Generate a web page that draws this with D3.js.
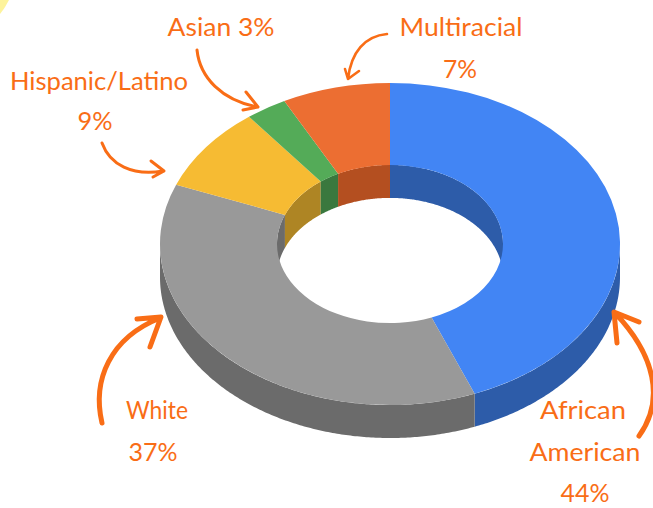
<!DOCTYPE html>
<html>
<head>
<meta charset="utf-8">
<script src="https://cdn.jsdelivr.net/npm/d3@7"></script>
<style>
  html, body { margin: 0; padding: 0; background: #fff; overflow: hidden; }
  svg { display: block; }
</style>
</head>
<body>
<div id="chart"></div>
<script>
const categories = ["African American", "White", "Hispanic/Latino", "Asian", "Multiracial"];
// printed on the labels
const percents = [44, 37, 9, 3, 7];
// slice sizes as measured off the ring, they don't quite follow the printed numbers
const shares = [44, 37, 8.5, 2.9, 7.6];
const topColors = ["#4285f4", "#999999", "#f6bb33", "#54ab58", "#ec6e32"];
const wallColors = ["#2d5ca9", "#6b6b6b", "#ae8524", "#3a783e", "#b44f20"];

const width = 653,
  height = 508,
  cx = 390,
  cy = 244,
  outerRadius = 230,
  innerRadius = 113,
  squash = 0.7,
  depth = 33,
  orange = "#f96d16";

const svg = d3.select("#chart")
  .append("svg")
  .attr("width", width)
  .attr("height", height)
  .attr("viewBox", [0, 0, width, height]);

// bit of the page decoration poking into the corner
svg.append("path")
  .attr("d", "M0,0 L9,0 Q5,8 0,14 Z")
  .attr("fill", "#fdf39b");

const arcs = d3.pie().sort(null).value(d => d)(shares);
const arc = d3.arc().innerRadius(innerRadius).outerRadius(outerRadius);

const rim = d3.line();
const pct = i => `${percents[i]}%`;

// strip of wall along radius r, between two angles
function wall(a0, a1, r) {
  if (a1 <= a0) return null;
  const n = Math.ceil((a1 - a0) / 0.01);
  const angles = d3.range(n + 1).map(i => a0 + (a1 - a0) * i / n);
  const top = angles.map(a => [r * Math.sin(a), -r * Math.cos(a) * squash]);
  const bottom = top.map(p => [p[0], p[1] + depth]).reverse();
  return rim(top.concat(bottom)) + "Z";
}

const chart = svg.append("g")
  .attr("transform", `translate(${cx},${cy})`);

// hole walls, only the far side shows
chart.append("g")
  .selectAll("path")
  .data(arcs)
  .join("path")
  .attr("fill", d => wallColors[d.index])
  .attr("d", d => {
    const right = wall(d.startAngle, Math.min(d.endAngle, Math.PI / 2), innerRadius);
    const left = wall(Math.max(d.startAngle, Math.PI * 1.5), d.endAngle, innerRadius);
    return (right || "") + (left || "");
  });

// outer walls, near side
chart.append("g")
  .selectAll("path")
  .data(arcs)
  .join("path")
  .attr("fill", d => wallColors[d.index])
  .attr("d", d => wall(Math.max(d.startAngle, Math.PI / 2), Math.min(d.endAngle, Math.PI * 1.5), outerRadius));

chart.append("g")
  .attr("transform", `scale(1,${squash})`)
  .selectAll("path")
  .data(arcs)
  .join("path")
  .attr("fill", d => topColors[d.index])
  .attr("d", arc);

// labels: text lines drawn with x, baseline and measured width
const labelLayout = [
  { text: `${categories[3]} ${pct(3)}`, x: 221, y: 36, w: 107 },
  { text: categories[4], x: 461, y: 36, w: 123 },
  { text: pct(4), x: 460, y: 78, w: 34 },
  { text: categories[2], x: 99, y: 90, w: 178 },
  { text: pct(2), x: 95, y: 130, w: 35 },
  { text: categories[1], x: 157, y: 419, w: 62 },
  { text: pct(1), x: 153, y: 461, w: 49 },
  { text: categories[0].split(" ")[0], x: 583, y: 419, w: 86 },
  { text: categories[0].split(" ")[1], x: 585, y: 461, w: 111 },
  { text: pct(0), x: 585, y: 502, w: 49 }
];

svg.append("g")
  .attr("font-family", "Lato, 'Noto Sans', sans-serif")
  .attr("font-size", 25)
  .attr("fill", orange)
  .attr("text-anchor", "middle")
  .selectAll("text")
  .data(labelLayout)
  .join("text")
  .attr("x", d => d.x)
  .attr("y", d => d.y)
  .attr("textLength", d => d.w)
  .attr("lengthAdjust", "spacingAndGlyphs")
  .text(d => d.text);

// hand drawn arrows
const arrows = [
  { sw: 3, d: "M197,50 C200,78 222,100 257,107 M246,92 L258,107 L243,110" },
  { sw: 3, d: "M102,143 C110,165 132,176 163,171 M151,161 L164,171 L153,177" },
  { sw: 2.6, d: "M387,34 C365,36 351,52 348,79 M345,69 L348,79 L359,71" },
  { sw: 5, d: "M102,423 C92,380 110,338 160,318 M137,319 L161,317 L150,347" },
  { sw: 5, d: "M639,436 C665,400 655,355 615,313 M639,322 L614,312 L617,343" }
];

svg.append("g")
  .attr("fill", "none")
  .attr("stroke", orange)
  .attr("stroke-linecap", "round")
  .attr("stroke-linejoin", "round")
  .selectAll("path")
  .data(arrows)
  .join("path")
  .attr("stroke-width", d => d.sw)
  .attr("d", d => d.d);
</script>
</body>
</html>
